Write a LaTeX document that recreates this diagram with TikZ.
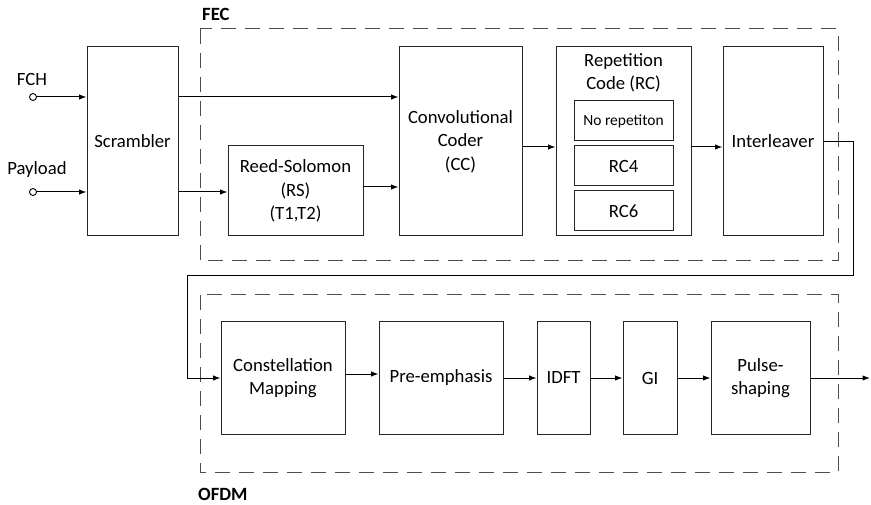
\documentclass[tikz,border=0pt]{standalone}
\usepackage{fontspec}
\setmainfont{Carlito}
\usetikzlibrary{arrows.meta}
\tikzset{
  blk/.style={draw=black!85, line width=1pt, fill=white, align=center,
    inner sep=0pt, font=\fontsize{18.7}{23.5}\selectfont},
  small/.style={font=\fontsize{15.5}{19}\selectfont},
  txt/.style={inner sep=0pt, align=center, font=\fontsize{18.7}{23.5}\selectfont},
  grp/.style={draw=black!70, line width=1pt, dash pattern=on 15pt off 9pt},
  grplabel/.style={inner sep=0pt, anchor=west, font=\fontsize{18.7}{23.5}\selectfont\bfseries},
  arr/.style={draw=black, line width=1pt, -{Latex[length=7.5pt,width=5.5pt]}},
  port/.style={circle, draw=black, line width=0.9pt, fill=white, minimum size=7pt, inner sep=0pt},
}
\begin{document}
\begin{tikzpicture}[x=1pt, y=-1pt]
\useasboundingbox (0,0) rectangle (871,505);

% group frames
\draw[grp] (200,29) rectangle (838,261);
\node[grplabel] (feclbl) at (202,14) {FEC};
\draw[grp] (200,295) rectangle (838,472);
\node[grplabel] (ofdmlbl) at (198,494) {OFDM};

% inputs
\node[port] (fch) at (33,97) {};
\node[txt] (fchlbl) at (32,79) {FCH};
\node[port] (pay) at (33,192) {};
\node[txt] (paylbl) at (37,170) {Payload};

% FEC chain
\node[blk, minimum width=91pt, minimum height=189pt] (scr) at (132.5,141.5) {Scrambler};
\node[blk, minimum width=135pt, minimum height=90pt] (rs) at (295.5,191) {Reed-Solomon\\(RS)\\(T1,T2)};
\node[blk, minimum width=123pt, minimum height=189pt] (cc) at (460.5,141.5) {Convolutional\\Coder\\(CC)};
\node[blk, minimum width=135pt, minimum height=189pt] (rc) at (623.5,141.5) {};
\node[txt] (rclbl) at (623.5,73) {Repetition\\Code (RC)};
\node[blk, small, minimum width=99pt, minimum height=40pt] (rc0) at (623.5,121) {No repetiton};
\node[blk, minimum width=99pt, minimum height=40pt] (rc4) at (623.5,166) {RC4};
\node[blk, minimum width=99pt, minimum height=40pt] (rc6) at (623.5,211) {RC6};
\node[blk, minimum width=100pt, minimum height=189pt] (il) at (773,141.5) {Interleaver};

% OFDM chain
\node[blk, minimum width=124pt, minimum height=112pt] (cm) at (283,378) {Constellation\\Mapping};
\node[blk, minimum width=124pt, minimum height=112pt] (pe) at (441,378) {Pre-emphasis};
\node[blk, minimum width=53pt, minimum height=112pt] (idft) at (563.5,378) {IDFT};
\node[blk, minimum width=54pt, minimum height=112pt] (gi) at (650,378) {GI};
\node[blk, minimum width=99pt, minimum height=112pt] (ps) at (760.5,378) {Pulse-\\shaping};

% connectors
\draw[arr] (fch) -- (fch -| scr.west);
\draw[arr] (pay) -- (pay -| scr.west);
\draw[arr] (fch -| scr.east) -- (fch -| cc.west);
\draw[arr] (pay -| scr.east) -- (pay -| rs.west);
\draw[arr] ([yshift=4pt]rs.east) -- ([yshift=4pt]rs.east -| cc.west);
\draw[arr] ([yshift=-5.5pt]cc.east) -- ([yshift=-5.5pt]cc.east -| rc.west);
\draw[arr] ([yshift=-5.5pt]rc.east) -- ([yshift=-5.5pt]rc.east -| il.west);

\coordinate (turnA) at (853,276);
\coordinate (turnB) at (187,276);
\draw[arr] (il.east) -| (turnA) -- (turnB) |- (cm.west);

\draw[arr] ([yshift=4pt]cm.east) -- ([yshift=4pt]cm.east -| pe.west);
\draw[arr] (pe) -- (idft);
\draw[arr] (idft) -- (gi);
\draw[arr] (gi) -- (ps);
\coordinate (out) at (870,378);
\draw[arr] (ps.east) -- (out);
\end{tikzpicture}
\end{document}
